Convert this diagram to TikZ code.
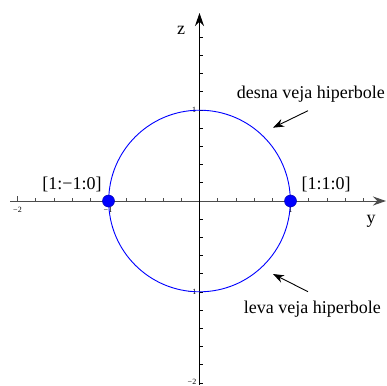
\documentclass[tikz,border=0pt]{standalone}
\usepackage{fontspec}
\setmainfont{Liberation Serif}
\usetikzlibrary{arrows.meta}
\begin{document}
\begin{tikzpicture}[x=1pt,y=-1pt,
  lbl/.style={font=\fontsize{18}{20}\selectfont, inner sep=0pt},
  ticklbl/.style={font=\fontsize{8}{9}\selectfont, inner sep=0pt},
  haxis/.style={draw=black!70, line width=1pt, -{Stealth[length=13pt,width=9pt]}},
  vaxis/.style={draw=black, line width=1pt, -{Stealth[length=13pt,width=9pt]}},
  htick/.style={draw=black!70, line width=0.8pt},
  vtick/.style={draw=black, line width=0.8pt},
  annarrow/.style={draw=black, line width=0.9pt, -{Stealth[length=11pt,width=8pt]}},
  curve/.style={draw=blue, line width=0.9pt},
  pt/.style={circle, fill=blue, draw=blue!70!black, line width=0.5pt, minimum size=12pt, inner sep=0pt},
]
\useasboundingbox (0,0) rectangle (387,385);
% axes
\coordinate (O) at (199.5,201);
\coordinate (hstart) at (10,201);
\coordinate (hend) at (386,201);
\coordinate (vstart) at (199.5,385);
\coordinate (vend) at (199.5,13);
% ticks
\foreach \i in {-10,...,9} {
  \ifnum\i=0\else
    \draw[htick] (199.5+\i*18.2,201) -- (199.5+\i*18.2,197.5);
  \fi
  \draw[vtick] (199.5,201-\i*18.2) -- (203,201-\i*18.2);
}
\foreach \i in {-10,-5,5} {
  \draw[htick] (199.5+\i*18.2,201) -- (199.5+\i*18.2,195.5);
}
\draw[haxis] (hstart) -- (hend);
\draw[vaxis] (vstart) -- (vend);
% tick labels
\node[ticklbl] (tm2) at (17.5,209.5) {−2};
\node[ticklbl] (tm1) at (108,209.5) {−1};
\node[ticklbl] (tp1) at (290.5,209.5) {1};
\node[ticklbl] (vp1) at (194,110) {1};
\node[ticklbl] (vm1) at (192,291.5) {−1};
\node[ticklbl] (vm2) at (192,382) {−2};
% axis labels
\node[lbl] (zl) at (181,30) {z};
\node[lbl] (yl) at (371,221.5) {y};
% circle
\draw[curve] (O) circle[radius=90.8];
% points
\node[pt] (pL) at (108.5,201) {};
\node[pt] (pR) at (290.5,201) {};
\node[lbl] (lL) at (72,184) {[1:−1:0]};
\node[lbl] (lR) at (326,184.5) {[1:1:0]};
% annotations
\node[lbl, anchor=base east] (desna) at (385,98) {desna veja hiperbole};
\node[lbl, anchor=base east] (leva) at (381,313) {leva veja hiperbole};
\coordinate (dt) at (308,110.7);
\coordinate (dh) at (273,127.7);
\coordinate (lt) at (308,291.7);
\coordinate (lh) at (273,274);
\draw[annarrow] (dt) -- (dh);
\draw[annarrow] (lt) -- (lh);
\end{tikzpicture}
\end{document}
